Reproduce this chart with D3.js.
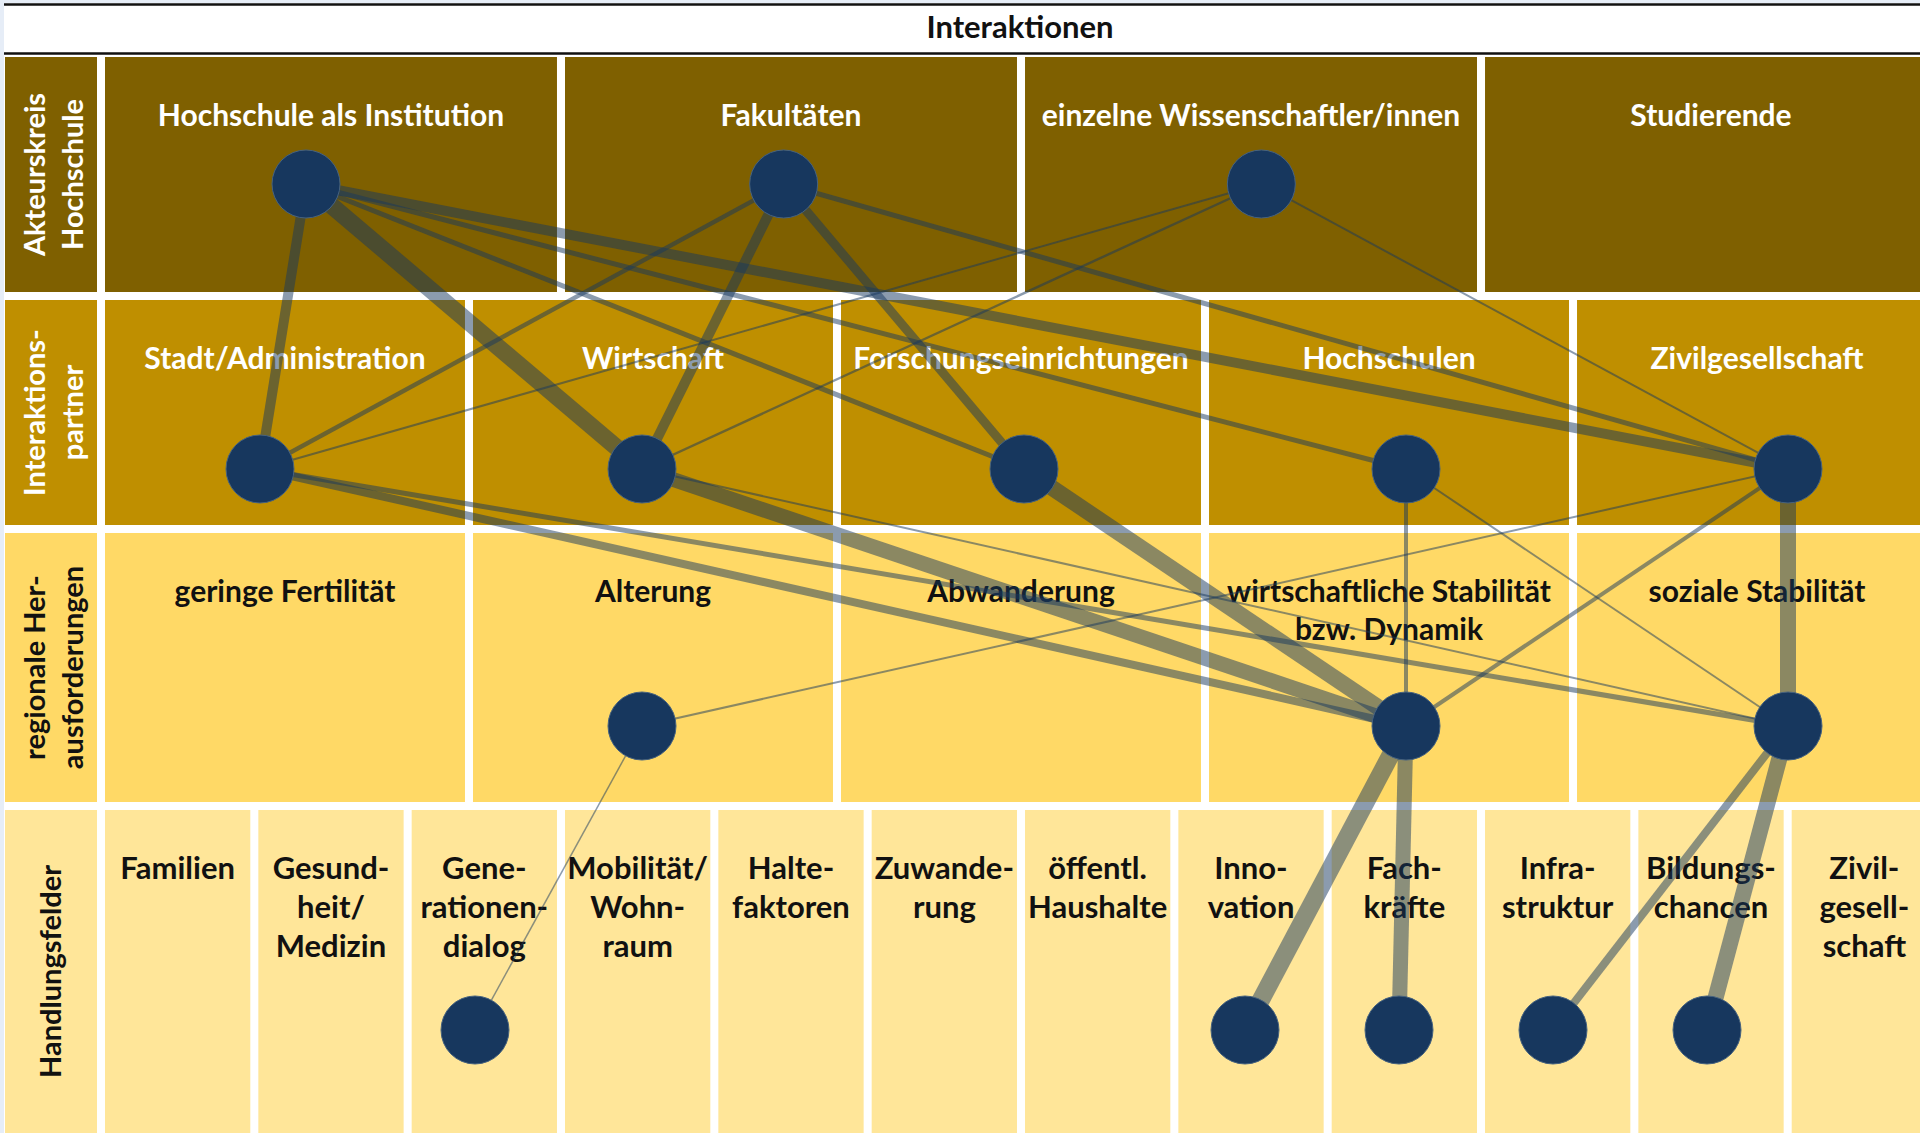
<!DOCTYPE html>
<html>
<head>
<meta charset="utf-8">
<script src="https://cdn.jsdelivr.net/npm/d3@7"></script>
<style>
	body { margin: 0; background: #fff; }
	svg { display: block; }
	text { font-family: Lato, "Open Sans", sans-serif; font-weight: 700; }
</style>
</head>
<body>
<div id="chart"></div>
<script>
// Interaktionen: Hochschule -> Partner -> Herausforderungen -> Handlungsfelder

var width = 1920,
	height = 1133;

// categories of each level
var actors = ["Hochschule als Institution", "Fakultäten", "einzelne Wissenschaftler/innen", "Studierende"];
var partners = ["Stadt/Administration", "Wirtschaft", "Forschungseinrichtungen", "Hochschulen", "Zivilgesellschaft"];
var challenges = ["geringe Fertilität", "Alterung", "Abwanderung", "wirtschaftliche Stabilität bzw. Dynamik", "soziale Stabilität"];
var challengeLabels = [["geringe Fertilität"], ["Alterung"], ["Abwanderung"], ["wirtschaftliche Stabilität", "bzw. Dynamik"], ["soziale Stabilität"]];
var fields = ["Familien", "Gesundheit/Medizin", "Generationendialog", "Mobilität/Wohnraum", "Haltefaktoren", "Zuwanderung",
	"öffentl. Haushalte", "Innovation", "Fachkräfte", "Infrastruktur", "Bildungschancen", "Zivilgesellschaft"];
var fieldLabels = [["Familien"], ["Gesund-", "heit/", "Medizin"], ["Gene-", "rationen-", "dialog"], ["Mobilität/", "Wohn-", "raum"],
	["Halte-", "faktoren"], ["Zuwande-", "rung"], ["öffentl.", "Haushalte"], ["Inno-", "vation"], ["Fach-", "kräfte"],
	["Infra-", "struktur"], ["Bildungs-", "chancen"], ["Zivil-", "gesell-", "schaft"]];
var levelTitles = [["Akteurskreis", "Hochschule"], ["Interaktions-", "partner"], ["regionale Her-", "ausforderungen"], ["Handlungsfelder"]];

// interaction strength (line thickness) between neighbouring levels
var actorPartnerLinks = [
	["Hochschule als Institution", "Stadt/Administration", 5],
	["Hochschule als Institution", "Wirtschaft", 8.5],
	["Hochschule als Institution", "Forschungseinrichtungen", 2.5],
	["Hochschule als Institution", "Hochschulen", 2.5],
	["Hochschule als Institution", "Zivilgesellschaft", 5],
	["Fakultäten", "Stadt/Administration", 2.2],
	["Fakultäten", "Wirtschaft", 5],
	["Fakultäten", "Forschungseinrichtungen", 4.5],
	["Fakultäten", "Zivilgesellschaft", 2.5],
	["einzelne Wissenschaftler/innen", "Stadt/Administration", 1],
	["einzelne Wissenschaftler/innen", "Wirtschaft", 1.2],
	["einzelne Wissenschaftler/innen", "Zivilgesellschaft", 1]
];
var partnerChallengeLinks = [
	["Stadt/Administration", "wirtschaftliche Stabilität bzw. Dynamik", 4],
	["Stadt/Administration", "soziale Stabilität", 2.5],
	["Wirtschaft", "wirtschaftliche Stabilität bzw. Dynamik", 7.5],
	["Wirtschaft", "soziale Stabilität", 1],
	["Forschungseinrichtungen", "wirtschaftliche Stabilität bzw. Dynamik", 8],
	["Hochschulen", "wirtschaftliche Stabilität bzw. Dynamik", 2],
	["Hochschulen", "soziale Stabilität", 1],
	["Zivilgesellschaft", "Alterung", 1],
	["Zivilgesellschaft", "wirtschaftliche Stabilität bzw. Dynamik", 2],
	["Zivilgesellschaft", "soziale Stabilität", 8]
];
var challengeFieldLinks = [
	["Alterung", "Generationendialog", 0.75],
	["wirtschaftliche Stabilität bzw. Dynamik", "Innovation", 9],
	["wirtschaftliche Stabilität bzw. Dynamik", "Fachkräfte", 7.5],
	["soziale Stabilität", "Infrastruktur", 4],
	["soziale Stabilität", "Bildungschancen", 8]
];

// layout
var x0 = 105, x1 = 1937, gap = 8,
	lab_x0 = 5, lab_x1 = 97,
	node_r = 34,
	node_color = "#17375E";

var rows = [
	{ names: actors, labels: actors.map(function(d) { return [d]; }), y0: 57, y1: 292,
		fill: "#7F6000", ink: "#fff", node_y: 184, node_range: [306, 1739], line_h: 38, fs: 30 },
	{ names: partners, labels: partners.map(function(d) { return [d]; }), y0: 300, y1: 525,
		fill: "#BF8F00", ink: "#fff", node_y: 469, node_range: [260, 1788], line_h: 38, fs: 30 },
	{ names: challenges, labels: challengeLabels, y0: 533, y1: 802,
		fill: "#FFD966", ink: "#111", node_y: 726, node_range: [260, 1788], line_h: 38, fs: 30 },
	{ names: fields, labels: fieldLabels, y0: 810, y1: 1133,
		fill: "#FFE699", ink: "#111", node_y: 1030, node_range: [167, 1861], line_h: 39, fs: 31 }
];

rows.forEach(function(r) {
	var step = (x1 - x0) / r.names.length;
	r.band = d3.scaleBand().domain(r.names).range([x0, x1]).paddingInner(gap / step);
	r.node = d3.scalePoint().domain(r.names).range(r.node_range);
});

var svg = d3.select("#chart")
	.append("svg")
	.attr("width", width)
	.attr("height", height);

// page frame
svg.append("rect").attr("width", width).attr("height", height).attr("fill", "#fff");
svg.append("rect").attr("width", 4).attr("height", height).attr("fill", "#E6EDF7");
svg.append("rect").attr("width", width).attr("height", 3).attr("fill", "#E6EDF7");
svg.append("line").attr("x1", 4).attr("x2", width).attr("y1", 4.5).attr("y2", 4.5)
	.attr("stroke", "#111").attr("stroke-width", 2.5);
svg.append("line").attr("x1", 4).attr("x2", width).attr("y1", 53.5).attr("y2", 53.5)
	.attr("stroke", "#111").attr("stroke-width", 2.5);

svg.append("text")
	.attr("x", 1020)
	.attr("y", 38)
	.attr("text-anchor", "middle")
	.attr("font-size", 31)
	.attr("fill", "#111")
	.text("Interaktionen");

// cells
var row_g = svg.selectAll("g.row")
	.data(rows)
	.enter().append("g")
	.attr("class", "row");

row_g.append("rect")
	.attr("x", lab_x0)
	.attr("y", function(r) { return r.y0; })
	.attr("width", lab_x1 - lab_x0)
	.attr("height", function(r) { return r.y1 - r.y0; })
	.attr("fill", function(r) { return r.fill; });

row_g.selectAll("rect.cell")
	.data(function(r) {
		return r.names.map(function(n, i) { return { row: r, name: n, lines: r.labels[i] }; });
	})
	.enter().append("rect")
	.attr("class", "cell")
	.attr("x", function(d) { return d.row.band(d.name); })
	.attr("y", function(d) { return d.row.y0; })
	.attr("width", function(d) { return d.row.band.bandwidth(); })
	.attr("height", function(d) { return d.row.y1 - d.row.y0; })
	.attr("fill", function(d) { return d.row.fill; });

// cell labels
row_g.selectAll("text.cell")
	.data(function(r) {
		return r.names.map(function(n, i) { return { row: r, name: n, lines: r.labels[i] }; });
	})
	.enter().append("text")
	.attr("class", "cell")
	.attr("text-anchor", "middle")
	.attr("font-size", function(d) { return d.row.fs; })
	.attr("fill", function(d) { return d.row.ink; })
	.each(function(d) {
		var cx = d.row.band(d.name) + d.row.band.bandwidth() / 2;
		d3.select(this).selectAll("tspan")
			.data(d.lines)
			.enter().append("tspan")
			.attr("x", cx)
			.attr("y", function(l, i) { return d.row.y0 + 69 + i * d.row.line_h; })
			.text(function(l) { return l; });
	});

// rotated level titles
row_g.append("text")
	.attr("transform", function(r) {
		return "translate(" + [(lab_x0 + lab_x1) / 2, (r.y0 + r.y1) / 2] + ") rotate(-90)";
	})
	.attr("text-anchor", "middle")
	.attr("font-size", 29)
	.attr("fill", function(r) { return r.ink; })
	.each(function(r, i) {
		var lines = levelTitles[i];
		d3.select(this).selectAll("tspan")
			.data(lines)
			.enter().append("tspan")
			.attr("x", 0)
			.attr("y", function(l, j) { return lines.length == 1 ? 10 : -6 + j * 38; })
			.text(function(l) { return l; });
	});

// links between levels
var width_scale = d3.scaleLinear().domain([0, 10]).range([0, 20]);

var link_data = [];
var used = rows.map(function() { return new Set(); });
[actorPartnerLinks, partnerChallengeLinks, challengeFieldLinks].forEach(function(list, lvl) {
	list.forEach(function(l) {
		used[lvl].add(l[0]);
		used[lvl + 1].add(l[1]);
		link_data.push({ from: rows[lvl], to: rows[lvl + 1], s: l[0], t: l[1], v: l[2] });
	});
});

svg.append("g")
	.selectAll("line")
	.data(link_data)
	.enter().append("line")
	.attr("x1", function(d) { return d.from.node(d.s); })
	.attr("y1", function(d) { return d.from.node_y; })
	.attr("x2", function(d) { return d.to.node(d.t); })
	.attr("y2", function(d) { return d.to.node_y; })
	.attr("stroke", node_color)
	.attr("stroke-opacity", 0.5)
	.attr("stroke-width", function(d) { return width_scale(d.v); });

// nodes
var node_data = [];
rows.forEach(function(r, i) {
	r.names.forEach(function(n) {
		if (used[i].has(n)) node_data.push({ row: r, name: n });
	});
});

svg.append("g")
	.selectAll("circle")
	.data(node_data)
	.enter().append("circle")
	.attr("cx", function(d) { return d.row.node(d.name); })
	.attr("cy", function(d) { return d.row.node_y; })
	.attr("r", node_r)
	.attr("fill", node_color)
	.attr("stroke", "#46627f")
	.attr("stroke-width", 1);
</script>
</body>
</html>
